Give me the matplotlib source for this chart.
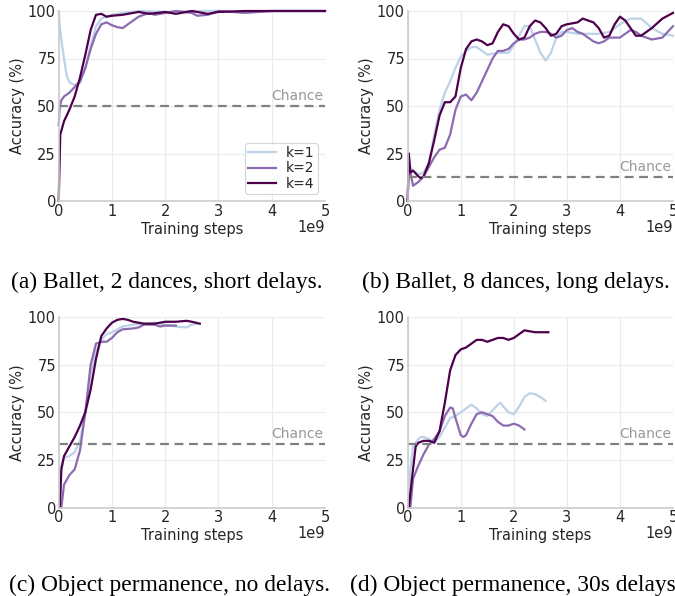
import numpy as np
import matplotlib
matplotlib.use("Agg")
import matplotlib.pyplot as plt

# ---------------- data (x in units of 1e9 training steps, y in %) ----------------
a_k1_x = [0, 0.02, 0.05, 0.1, 0.15, 0.2, 0.3, 0.4, 0.5, 0.6, 0.7, 0.8, 1.0, 1.2, 1.5, 2.0, 2.5, 3.0, 3.5, 4.0, 4.5, 5.0]
a_k1_y = [100, 92, 85, 75, 66, 62.5, 61, 62, 70, 82, 92, 96, 98, 99, 100, 99.5, 100, 100, 99.5, 100, 100, 100]
a_k2_x = [0, 0.02, 0.05, 0.1, 0.2, 0.3, 0.4, 0.5, 0.6, 0.7, 0.8, 0.9, 1.0, 1.1, 1.2, 1.3, 1.5, 1.7, 1.8, 2.0, 2.2, 2.5, 2.6, 2.8, 3.0, 3.5, 4.0, 4.5, 5.0]
a_k2_y = [40, 50, 53, 55, 57, 60, 63, 70, 80, 88, 93, 94, 92.5, 91.5, 91, 93, 97, 99, 98, 99, 100, 99, 97.5, 98, 100, 99, 100, 100, 100]
a_k4_x = [0, 0.03, 0.1, 0.2, 0.3, 0.4, 0.5, 0.6, 0.7, 0.8, 0.9, 1.0, 1.2, 1.5, 1.7, 2.0, 2.2, 2.5, 2.8, 3.0, 3.5, 4.0, 4.5, 5.0]
a_k4_y = [0, 35, 42, 48, 55, 65, 77, 90, 98, 98.5, 97, 97.5, 98, 99.5, 98.5, 99.5, 98.5, 100, 98.5, 99.5, 100, 100, 100, 100]

b_k1_x = [0, 0.02, 0.05, 0.1, 0.2, 0.3, 0.4, 0.5, 0.6, 0.7, 0.8, 0.9, 1.0, 1.1, 1.2, 1.3, 1.4, 1.5, 1.7, 1.9, 2.0, 2.2, 2.3, 2.4, 2.5, 2.6, 2.7, 2.8, 2.9, 3.0, 3.2, 3.4, 3.6, 3.8, 4.0, 4.2, 4.4, 4.6, 4.8, 5.0]
b_k1_y = [0, 25, 18, 16, 14, 15, 20, 35, 48, 57, 63, 70, 76, 79, 81, 81, 79, 77, 78, 78, 82, 92, 92, 85, 78, 74, 78, 86, 89, 89, 88, 88, 88, 89, 93, 96, 96, 91, 88, 87]
b_k2_x = [0, 0.02, 0.1, 0.2, 0.3, 0.4, 0.5, 0.6, 0.7, 0.8, 0.9, 1.0, 1.1, 1.2, 1.3, 1.4, 1.5, 1.6, 1.7, 1.8, 1.9, 2.0, 2.1, 2.2, 2.3, 2.4, 2.5, 2.6, 2.7, 2.8, 2.9, 3.0, 3.1, 3.2, 3.3, 3.4, 3.5, 3.6, 3.7, 3.8, 4.0, 4.1, 4.2, 4.3, 4.4, 4.6, 4.8, 4.9, 5.0]
b_k2_y = [0, 20, 8, 10, 13, 18, 23, 27, 28, 35, 48, 55, 56, 53, 57, 63, 69, 75, 79, 79, 80, 83, 85, 85, 86, 88, 89, 89, 88, 86, 87, 90, 91, 89, 88, 86, 84, 83, 84, 86, 86, 88, 90, 89, 87, 85, 86, 89, 92]
b_k4_x = [0, 0.02, 0.05, 0.1, 0.2, 0.25, 0.3, 0.4, 0.5, 0.6, 0.7, 0.8, 0.9, 1.0, 1.1, 1.2, 1.3, 1.4, 1.5, 1.6, 1.7, 1.8, 1.9, 2.0, 2.1, 2.2, 2.3, 2.4, 2.5, 2.6, 2.7, 2.8, 2.9, 3.0, 3.2, 3.3, 3.5, 3.6, 3.7, 3.8, 3.9, 4.0, 4.1, 4.2, 4.3, 4.4, 4.6, 4.8, 5.0]
b_k4_y = [0, 25, 15, 16, 13, 12, 13, 20, 32, 45, 52, 52, 55, 70, 80, 84, 85, 84, 82, 83, 89, 93, 92, 88, 85, 86, 92, 95, 94, 91, 87, 88, 92, 93, 94, 96, 94, 91, 86, 87, 93, 97, 95, 91, 87, 87, 91, 96, 99]

c_k1_x = [0.02, 0.05, 0.1, 0.2, 0.3, 0.4, 0.5, 0.6, 0.7, 0.8, 0.9, 1.0, 1.2, 1.4, 1.6, 1.8, 2.0, 2.2, 2.4, 2.5, 2.6]
c_k1_y = [0, 22, 26, 27, 29, 35, 50, 70, 82, 88, 91, 92, 95, 96, 96.5, 97, 96, 95, 94.5, 96, 96.5]
c_k2_x = [0.05, 0.1, 0.2, 0.3, 0.4, 0.5, 0.6, 0.7, 0.8, 0.9, 1.0, 1.1, 1.2, 1.4, 1.5, 1.6, 1.8, 1.9, 2.0, 2.2]
c_k2_y = [0, 12, 17, 20, 30, 50, 75, 86, 87, 87, 89, 92, 93.5, 94, 94.5, 96, 96, 95, 95.5, 95.5]
c_k4_x = [0.02, 0.05, 0.1, 0.2, 0.3, 0.4, 0.5, 0.6, 0.7, 0.8, 0.9, 1.0, 1.1, 1.2, 1.3, 1.4, 1.6, 1.8, 2.0, 2.2, 2.4, 2.5, 2.65]
c_k4_y = [0, 20, 27, 32, 37, 43, 50, 62, 78, 90, 94, 97, 98.5, 99, 98.5, 97.5, 96.5, 96.5, 97.5, 97.5, 98, 97.5, 96.5]

d_k1_x = [0.02, 0.05, 0.1, 0.2, 0.25, 0.3, 0.4, 0.5, 0.6, 0.7, 0.8, 0.9, 1.0, 1.1, 1.2, 1.3, 1.4, 1.5, 1.6, 1.7, 1.75, 1.8, 1.9, 2.0, 2.1, 2.2, 2.3, 2.4, 2.5, 2.6]
d_k1_y = [0, 20, 32, 36, 37, 37, 36, 34, 37, 42, 47, 48, 50, 52, 54, 52, 49, 48, 51, 54, 55, 53, 50, 49, 53, 58, 60, 59.5, 58, 56]
d_k2_x = [0.05, 0.1, 0.2, 0.3, 0.4, 0.5, 0.6, 0.7, 0.8, 0.85, 0.9, 1.0, 1.05, 1.1, 1.2, 1.3, 1.4, 1.5, 1.6, 1.7, 1.8, 1.9, 2.0, 2.1, 2.2]
d_k2_y = [0, 15, 22, 28, 33, 36, 40, 48, 52.5, 52, 47, 38, 37, 38, 44, 49, 50, 49, 48, 45, 43, 43, 44, 43, 41]
d_k4_x = [0.02, 0.1, 0.15, 0.2, 0.3, 0.4, 0.5, 0.6, 0.7, 0.8, 0.9, 1.0, 1.1, 1.2, 1.3, 1.4, 1.5, 1.6, 1.7, 1.8, 1.9, 2.0, 2.1, 2.2, 2.3, 2.4, 2.6, 2.65]
d_k4_y = [0, 20, 32, 34, 35, 35, 34, 40, 55, 72, 80, 83, 84, 86, 88, 88, 87, 88, 89, 89, 88, 89, 91, 93, 92.5, 92, 92, 92]

chance_levels = [50, 12.5, 100 / 3, 100 / 3]
captions = ["(a) Ballet, 2 dances, short delays.",
            "(b) Ballet, 8 dances, long delays.",
            "(c) Object permanence, no delays.",
            "(d) Object permanence, 30s delays."]
series_labels = ["k=1", "k=2", "k=4"]
x_ticks = [0, 1, 2, 3, 4, 5]
y_ticks = [0, 25, 50, 75, 100]

panels = [
    [(a_k1_x, a_k1_y), (a_k2_x, a_k2_y), (a_k4_x, a_k4_y)],
    [(b_k1_x, b_k1_y), (b_k2_x, b_k2_y), (b_k4_x, b_k4_y)],
    [(c_k1_x, c_k1_y), (c_k2_x, c_k2_y), (c_k4_x, c_k4_y)],
    [(d_k1_x, d_k1_y), (d_k2_x, d_k2_y), (d_k4_x, d_k4_y)],
]

colors = ["#bcd2e8", "#8c6bb1", "#4d004b"]
text_color = "#262626"
fs = 10.5

fig = plt.figure(figsize=(6.75, 5.96), dpi=100)
W, H = 675, 596
# axes boxes in pixels: (left, top, right, bottom)
boxes = [(58.7, 11, 325, 201), (407.7, 11, 673, 201),
         (58.7, 317, 325, 507.5), (407.7, 317, 673, 507.5)]
# caption left x and baseline y in pixels
cap_pos = [(11, 288), (362, 288), (9, 591), (350, 591)]

for i, (box, series) in enumerate(zip(boxes, panels)):
    l, t, r, b = box
    ax = fig.add_axes([l / W, 1 - b / H, (r - l) / W, (b - t) / H])
    ax.set_facecolor("white")
    ax.grid(True, color="#ebebeb", linewidth=0.9)
    ax.set_axisbelow(True)
    for s in ["top", "right"]:
        ax.spines[s].set_visible(False)
    for s in ["left", "bottom"]:
        ax.spines[s].set_color("#cccccc")
        ax.spines[s].set_linewidth(1.2)
    for (xs, ys), c, lab in zip(series, colors, series_labels):
        ax.plot(xs, ys, color=c, lw=1.6, label=lab, clip_on=False)
    ax.axhline(chance_levels[i], color="#808080", lw=1.6, ls=(0, (4, 2.5)))
    ax.text(4.96, chance_levels[i] + 1.5, "Chance", color="#999999", fontsize=10,
            ha="right", va="bottom")
    ax.set_xlim(0, 5)
    ax.set_ylim(0, 100)
    ax.set_xticks(x_ticks)
    ax.set_yticks(y_ticks)
    ax.tick_params(length=0, labelsize=fs, labelcolor=text_color, pad=2)
    ax.set_xlabel("Training steps", fontsize=fs, color=text_color, labelpad=2)
    ax.set_ylabel("Accuracy (%)", fontsize=fs, color=text_color, labelpad=2)
    ax.text(1.0, -0.137, "1e9", transform=ax.transAxes, ha="right", va="center",
            fontsize=fs, color=text_color)
    if i == 0:
        leg = ax.legend(loc="lower right", fontsize=10, frameon=True,
                        handlelength=2.0, borderpad=0.25, labelspacing=0.08,
                        handletextpad=0.7)
        leg.get_frame().set_edgecolor("#cccccc")
        leg.get_frame().set_linewidth(0.8)
        for txt in leg.get_texts():
            txt.set_color(text_color)
    cx, cy = cap_pos[i]
    fig.text(cx / W, 1 - cy / H, captions[i], ha="left", va="baseline",
             fontsize=16.9, family="Liberation Serif", color="black")

fig.savefig("out.png", dpi=100)
